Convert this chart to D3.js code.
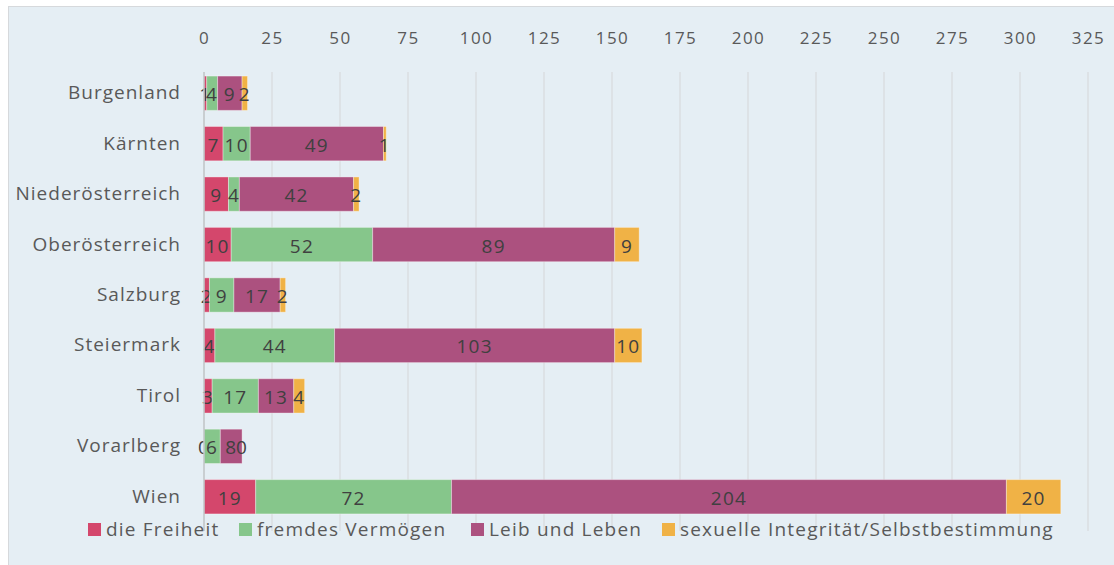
<!DOCTYPE html>
<html>
<head>
<meta charset="utf-8">
<script src="https://cdn.jsdelivr.net/npm/d3@7"></script>
<style>
  html, body { margin: 0; padding: 0; background: #fff; }
  svg { display: block; font-family: "Open Sans", Lato, sans-serif; }
</style>
</head>
<body>
<svg id="chart" width="1114" height="565"></svg>
<script>

var regions = ["Burgenland", "Kärnten", "Niederösterreich", "Oberösterreich", "Salzburg",
               "Steiermark", "Tirol", "Vorarlberg", "Wien"];

var seriesNames = ["die Freiheit", "fremdes Vermögen", "Leib und Leben", "sexuelle Integrität/Selbstbestimmung"];

var freiheit  = [1, 7, 9, 10, 2, 4, 3, 0, 19];
var vermoegen = [4, 10, 4, 52, 9, 44, 17, 6, 72];
var leib      = [9, 49, 42, 89, 17, 103, 13, 8, 204];
var sexuell   = [2, 1, 2, 9, 2, 10, 4, 0, 20];

var tickValues = d3.range(0, 326, 25);

var colors = ["#d4476c", "#86c68b", "#ac517f", "#f0b246"];

var width = 1114,
    height = 565,
    margin = {top: 68, right: 26, bottom: 43, left: 204};

var svg = d3.select("#chart");

// panel background
svg.append("rect")
    .attr("x", 8.5)
    .attr("y", 6.5)
    .attr("width", width)
    .attr("height", height)
    .attr("fill", "#e5eef4")
    .attr("stroke", "#d6d9dc");

var rows = regions.map(function(r, i){
    return {region: r, "0": freiheit[i], "1": vermoegen[i], "2": leib[i], "3": sexuell[i]};
});

var stack = d3.stack().keys(["0", "1", "2", "3"]);
var layers = stack(rows);

var x = d3.scaleLinear()
    .domain([0, 325])
    .range([margin.left, margin.left + 325 * 2.72]);

var y = d3.scaleBand()
    .domain(regions)
    .range([margin.top, height - margin.bottom])
    .paddingInner(0.32)
    .paddingOuter(0.16);

// gridlines
svg.append("g")
    .selectAll("line")
    .data(tickValues.slice(1))
    .enter().append("line")
    .attr("x1", function(d){ return x(d); })
    .attr("x2", function(d){ return x(d); })
    .attr("y1", 72)
    .attr("y2", 531)
    .attr("stroke", "#d9dcdf")
    .attr("stroke-width", 1.3);

// top axis
var axis = svg.append("g")
    .attr("transform", "translate(0,44)")
    .call(d3.axisTop(x).tickValues(tickValues).tickSize(0).tickPadding(0));
axis.select(".domain").remove();
axis.selectAll("text")
    .attr("font-family", "'Open Sans', Lato, sans-serif")
    .attr("font-size", 17)
    .attr("letter-spacing", 1.5)
    .attr("fill", "#595959");

// bars
var layer = svg.append("g")
    .selectAll("g")
    .data(layers)
    .enter().append("g")
    .attr("fill", function(d, i){ return colors[i]; });

layer.selectAll("rect")
    .data(function(d){ return d; })
    .enter().append("rect")
    .attr("x", function(d){ return x(d[0]); })
    .attr("y", function(d){ return y(d.data.region); })
    .attr("width", function(d){ return x(d[1]) - x(d[0]); })
    .attr("height", y.bandwidth())
    .attr("stroke", "rgba(255,255,255,0.35)")
    .attr("stroke-width", 1);

// zero axis line
svg.append("line")
    .attr("x1", x(0))
    .attr("x2", x(0))
    .attr("y1", 72)
    .attr("y2", 531)
    .attr("stroke", "#bfc3c6")
    .attr("stroke-width", 1.5);

// data labels
layer.selectAll("text")
    .data(function(d){ return d; })
    .enter().append("text")
    .attr("x", function(d){ return (x(d[0]) + x(d[1])) / 2; })
    .attr("y", function(d){ return y(d.data.region) + y.bandwidth() / 2 + 8; })
    .attr("text-anchor", "middle")
    .attr("font-size", 19)
    .attr("letter-spacing", 1.2)
    .attr("fill", "#404040")
    .text(function(d){ return d[1] - d[0]; });

// category labels
svg.append("g")
    .selectAll("text")
    .data(regions)
    .enter().append("text")
    .attr("x", 181)
    .attr("y", function(d){ return y(d) + y.bandwidth() / 2 + 6; })
    .attr("text-anchor", "end")
    .attr("font-size", 19)
    .attr("letter-spacing", 1)
    .attr("fill", "#595959")
    .text(function(d){ return d; });

// legend
var legendX = [88, 239, 471, 662];
var legend = svg.append("g")
    .selectAll("g")
    .data(seriesNames)
    .enter().append("g")
    .attr("transform", function(d, i){ return "translate(" + legendX[i] + ",523)"; });

legend.append("rect")
    .attr("width", 13)
    .attr("height", 13)
    .attr("fill", function(d, i){ return colors[i]; });

legend.append("text")
    .attr("x", 18)
    .attr("y", 13)
    .attr("font-size", 19)
    .attr("letter-spacing", 1.2)
    .attr("fill", "#595959")
    .text(function(d){ return d; });

</script>
</body>
</html>
